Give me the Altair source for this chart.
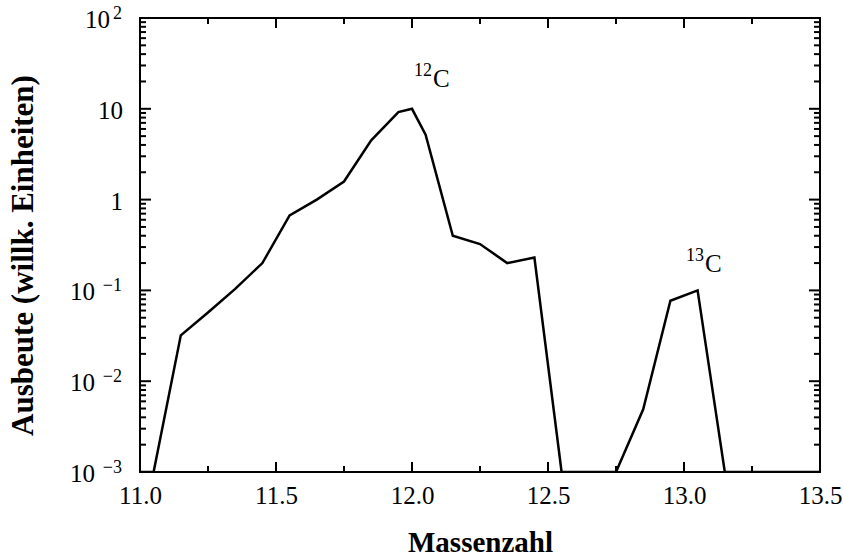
import altair as alt
import pandas as pd

# ---- data ----
massenzahl = [11.0, 11.05, 11.15, 11.25, 11.35, 11.45, 11.55, 11.65, 11.75, 11.85,
              11.95, 12.0, 12.05, 12.15, 12.25, 12.35, 12.45, 12.55, 12.75, 12.85,
              12.95, 13.05, 13.15, 13.5]
ausbeute = [0.001, 0.001, 0.032, 0.057, 0.104, 0.2, 0.67, 1.0, 1.58, 4.5,
            9.2, 10.0, 5.2, 0.40, 0.324, 0.20, 0.23, 0.001, 0.001, 0.0049,
            0.077, 0.1, 0.001, 0.001]

peak_mass = ["12", "13"]
peak_elem = ["C", "C"]
peak_x = [12.077, 13.077]
peak_y = [17.6, 0.16]

x_major = [11.0, 11.5, 12.0, 12.5, 13.0, 13.5]
x_minor = [11.25, 11.75, 12.25, 12.75, 13.25]
y_major = [0.001, 0.01, 0.1, 1, 10, 100]
y_label_base = ["10", "10", "10", "1", "10", "10"]
y_label_exp = ["−3", "−2", "−1", "", "", "2"]
y_minor = [m * 10.0 ** e for e in range(-3, 2) for m in range(2, 10)]

W, H = 680, 454
FONT = "Liberation Serif"

xscale = alt.Scale(domain=[11.0, 13.5], nice=False, zero=False)
yscale = alt.Scale(type="log", domain=[0.001, 100], nice=False)

xaxis = alt.Axis(
    title="Massenzahl", values=x_major, format=".1f", ticks=False, domain=False,
    grid=False, labelFlush=False, labelOverlap=False, labelPadding=11,
    titleX=W / 2, titleY=79, titleBaseline="alphabetic", titleAlign="center",
    titleFontSize=29)
yaxis = alt.Axis(
    title="Ausbeute (willk. Einheiten)", values=y_major, labels=False,
    ticks=False, domain=False, grid=False,
    titleX=-108, titleY=237, titleAngle=-90,
    titleBaseline="alphabetic", titleAlign="center", titleFontSize=31)

X = lambda: alt.X("x:Q", scale=xscale, axis=xaxis)
Y = lambda: alt.Y("y:Q", scale=yscale, axis=yaxis)

df = pd.DataFrame({"x": massenzahl, "y": ausbeute})

line = alt.Chart(df).mark_line(color="black", strokeWidth=2.5, clip=True).encode(
    x=X(), y=Y())


def xticks(vals, length):
    d = pd.DataFrame({"x": vals})
    bottom = alt.Chart(d).mark_rule(color="black", strokeWidth=2).encode(
        x=X(), y=alt.value(H), y2=alt.value(H - length))
    top = alt.Chart(d).mark_rule(color="black", strokeWidth=2).encode(
        x=X(), y=alt.value(0), y2=alt.value(length))
    return [bottom, top]


def yticks(vals, length):
    d = pd.DataFrame({"y": vals})
    left = alt.Chart(d).mark_rule(color="black", strokeWidth=2).encode(
        y=Y(), x=alt.value(0), x2=alt.value(length))
    right = alt.Chart(d).mark_rule(color="black", strokeWidth=2).encode(
        y=Y(), x=alt.value(W), x2=alt.value(W - length))
    return [left, right]


# y tick labels with real superscripts
ylab = pd.DataFrame({"y": y_major, "b": y_label_base, "e": y_label_exp})
ylab["kind"] = ["neg" if e.startswith("−") else ("pos" if e else "none") for e in y_label_exp]
base_x = {"neg": -45, "pos": -30, "none": -17}
ylabel_layers = []
for kind, xpos in base_x.items():
    ylabel_layers.append(
        alt.Chart(ylab).transform_filter(alt.datum.kind == kind).mark_text(
            font=FONT, fontSize=25, align="right", baseline="alphabetic", dy=10,
            color="black").encode(y=Y(), x=alt.value(xpos), text="b:N"))
ylabel_layers.append(
    alt.Chart(ylab).transform_filter(alt.datum.e != "").mark_text(
        font=FONT, fontSize=18, align="right", baseline="alphabetic", dy=0.5,
        color="black").encode(y=Y(), x=alt.value(-18), text="e:N"))

# peak labels
lab = pd.DataFrame({"x": peak_x, "y": peak_y, "m": peak_mass, "c": peak_elem})
elem = alt.Chart(lab).mark_text(font=FONT, fontSize=25, baseline="alphabetic",
                                align="left", color="black").encode(
    x=X(), y=Y(), text="c:N")
mass = alt.Chart(lab).mark_text(font=FONT, fontSize=18, baseline="alphabetic",
                                align="right", dx=-1, dy=-11, color="black").encode(
    x=X(), y=Y(), text="m:N")

layers = ([line] + xticks(x_major, 10) + xticks(x_minor, 6)
          + yticks(y_major, 11) + yticks(y_minor, 6) + ylabel_layers + [elem, mass])

chart = alt.layer(*layers).properties(
    width=W, height=H,
    autosize=alt.AutoSizeParams(type="none"),
    padding={"left": 140, "top": 18, "right": 23, "bottom": 86},
).configure_view(
    stroke="black", strokeWidth=2
).configure_axis(
    labelFont=FONT, labelFontSize=25, labelColor="black",
    titleFont=FONT, titleFontWeight="bold", titleColor="black",
)

chart.save("out.html", embed_options={"renderer": "svg", "actions": False})
